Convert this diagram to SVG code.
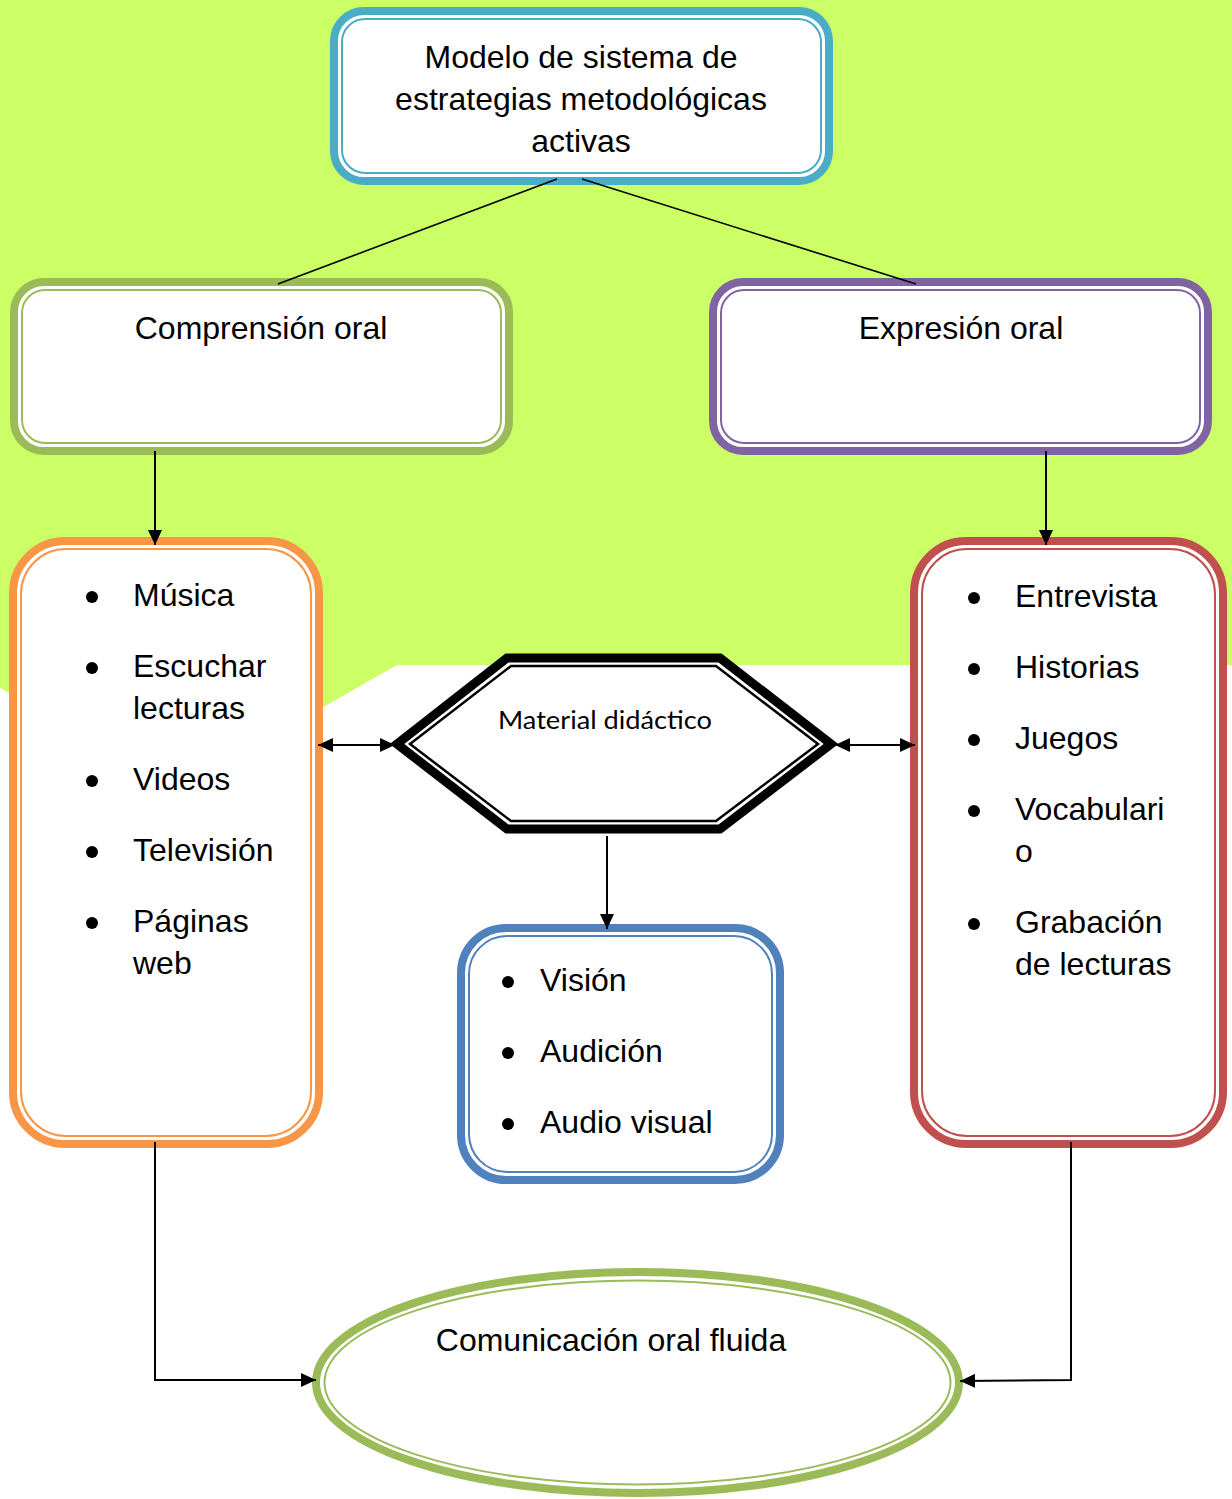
<svg xmlns="http://www.w3.org/2000/svg" width="1232" height="1499" viewBox="0 0 1232 1499">
<defs>
<style>
.t{font-family:"Liberation Sans",Arial,sans-serif;font-size:32px;fill:#000}
.c{text-anchor:middle}
.thick{fill:#fff;stroke-width:8}
.thin{fill:none;stroke-width:2}
.conn{fill:none;stroke:#000;stroke-width:2}
.bl{fill:#000}
</style>
<marker id="ah" markerUnits="userSpaceOnUse" markerWidth="16" markerHeight="14" refX="15" refY="7" orient="auto-start-reverse">
<path d="M0,0 L15,7 L0,14 z" fill="#000"/>
</marker>
</defs>
<rect x="0" y="0" width="1232" height="1499" fill="#fff"/>
<polygon points="0,0 1232,0 1232,665 397,665 318,710 160,780 9,693 0,688" fill="#CCFF66"/>

<g id="top">
<rect class="thick" x="334" y="11" width="495" height="170" rx="30" stroke="#4BACC6"/>
<rect class="thin" x="342" y="19" width="479" height="154" rx="23" stroke="#4BACC6"/>
<text class="t c" x="581" y="68">Modelo de sistema de</text>
<text class="t c" x="581" y="110">estrategias metodológicas</text>
<text class="t c" x="581" y="152">activas</text>
</g>

<g id="comprension">
<rect class="thick" x="14" y="282" width="495" height="169" rx="30" stroke="#9BBB59"/>
<rect class="thin" x="22" y="290" width="479" height="153" rx="23" stroke="#9BBB59"/>
<text class="t c" x="261" y="339">Comprensión oral</text>
</g>

<g id="expresion">
<rect class="thick" x="713" y="282" width="495" height="169" rx="30" stroke="#8064A2"/>
<rect class="thin" x="721" y="290" width="479" height="153" rx="23" stroke="#8064A2"/>
<text class="t c" x="961" y="339">Expresión oral</text>
</g>

<g id="lista-comprension">
<rect class="thick" x="13" y="541" width="306" height="603" rx="52" stroke="#F79646"/>
<rect class="thin" x="21" y="549" width="290" height="587" rx="45" stroke="#F79646"/>
<circle class="bl" cx="92" cy="597" r="6"/><text class="t" x="133" y="606">Música</text>
<circle class="bl" cx="92" cy="668" r="6"/><text class="t" x="133" y="677">Escuchar</text>
<text class="t" x="133" y="719">lecturas</text>
<circle class="bl" cx="92" cy="781" r="6"/><text class="t" x="133" y="790">Videos</text>
<circle class="bl" cx="92" cy="852" r="6"/><text class="t" x="133" y="861">Televisión</text>
<circle class="bl" cx="92" cy="923" r="6"/><text class="t" x="133" y="932">Páginas</text>
<text class="t" x="133" y="974">web</text>
</g>

<g id="lista-expresion">
<rect class="thick" x="914" y="541" width="309" height="603" rx="52" stroke="#C0504D"/>
<rect class="thin" x="922" y="549" width="293" height="587" rx="45" stroke="#C0504D"/>
<circle class="bl" cx="974" cy="598" r="6"/><text class="t" x="1015" y="607">Entrevista</text>
<circle class="bl" cx="974" cy="669" r="6"/><text class="t" x="1015" y="678">Historias</text>
<circle class="bl" cx="974" cy="740" r="6"/><text class="t" x="1015" y="749">Juegos</text>
<circle class="bl" cx="974" cy="811" r="6"/><text class="t" x="1015" y="820">Vocabulari</text>
<text class="t" x="1015" y="862">o</text>
<circle class="bl" cx="974" cy="924" r="6"/><text class="t" x="1015" y="933">Grabación</text>
<text class="t" x="1015" y="975">de lecturas</text>
</g>

<g id="material">
<polygon points="397,744 507,658 720,658 831,744 720,829 507,829" fill="#fff" stroke="#000" stroke-width="9" stroke-linejoin="miter"/>
<polygon points="410,744 511,666 716,666 818,744 716,821 511,821" fill="none" stroke="#000" stroke-width="2.5"/>
<text x="605" y="729" text-anchor="middle" font-family="Lato,'Open Sans',sans-serif" font-size="25" textLength="214" lengthAdjust="spacingAndGlyphs">Material didáctico</text>
</g>

<g id="sentidos">
<rect class="thick" x="461" y="928" width="319" height="252" rx="45" stroke="#4F81BD"/>
<rect class="thin" x="469" y="936" width="303" height="236" rx="38" stroke="#4F81BD"/>
<circle class="bl" cx="508" cy="982" r="6"/><text class="t" x="540" y="991">Visión</text>
<circle class="bl" cx="508" cy="1053" r="6"/><text class="t" x="540" y="1062">Audición</text>
<circle class="bl" cx="508" cy="1124" r="6"/><text class="t" x="540" y="1133">Audio visual</text>
</g>

<g id="comunicacion">
<ellipse class="thick" cx="637.5" cy="1382.5" rx="321.5" ry="110.5" stroke="#9BBB59"/>
<ellipse class="thin" cx="637.5" cy="1382.5" rx="313" ry="102" stroke="#9BBB59"/>
<text class="t c" x="611" y="1351">Comunicación oral fluida</text>
</g>

<g id="connectors">
<line x1="557" y1="179" x2="278" y2="284" stroke="#000" stroke-width="1.6"/>
<line x1="582" y1="179" x2="916" y2="284" stroke="#000" stroke-width="1.6"/>
<line class="conn" x1="155" y1="451" x2="155" y2="545" marker-end="url(#ah)"/>
<line class="conn" x1="1046" y1="451" x2="1046" y2="545" marker-end="url(#ah)"/>
<line class="conn" x1="318" y1="745" x2="395" y2="745" marker-start="url(#ah)" marker-end="url(#ah)"/>
<line class="conn" x1="835" y1="745" x2="915" y2="745" marker-start="url(#ah)" marker-end="url(#ah)"/>
<line class="conn" x1="607" y1="836" x2="607" y2="929" marker-end="url(#ah)"/>
<polyline class="conn" points="155,1142 155,1380 316,1380" marker-end="url(#ah)"/>
<polyline class="conn" points="1071,1142 1071,1380 960,1381" marker-end="url(#ah)"/>
</g>
</svg>
